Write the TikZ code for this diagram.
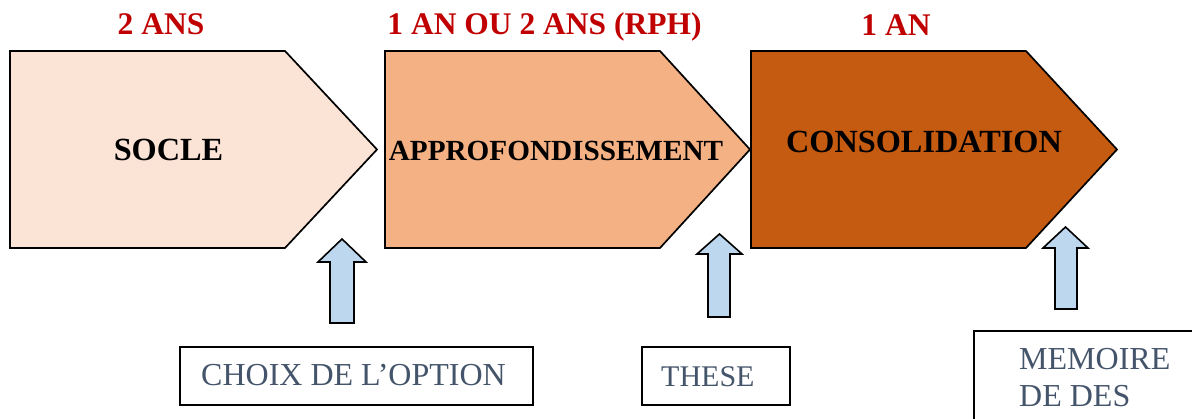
\documentclass[tikz,border=0pt]{standalone}
\usepackage{fontspec}
\setmainfont{Liberation Serif}
\definecolor{socle}{HTML}{FBE4D5}
\definecolor{appro}{HTML}{F4B183}
\definecolor{conso}{HTML}{C55A11}
\definecolor{redlbl}{HTML}{C00000}
\definecolor{slate}{HTML}{44546A}
\definecolor{blockblue}{HTML}{BDD7EE}
\tikzset{
  phase/.style={draw=black, line width=1.7pt, line join=miter},
  uparrow/.style={draw=black, line width=1.6pt, fill=blockblue, line join=miter},
  outbox/.style={draw=black, line width=1.6pt, fill=white, inner sep=0pt},
  durlbl/.style={text=redlbl, font=\fontsize{31.5}{37}\selectfont\bfseries, inner sep=0pt, anchor=base},
  phaselbl/.style={text=black, font=\fontsize{32.3}{37}\selectfont\bfseries, inner sep=0pt, anchor=base},
  boxtxt/.style={text=slate, font=\fontsize{32}{37}\selectfont, inner sep=0pt, anchor=base west}
}
\begin{document}
\begin{tikzpicture}[x=1pt,y=-1pt]
\useasboundingbox (0,0) rectangle (1192,419);
\clip (0,0) rectangle (1192,419);
% phases
\draw[phase, fill=socle] (10,51) -- (285,51) -- (377,149.5) -- (285,248) -- (10,248) -- cycle;
\draw[phase, fill=appro] (385,51) -- (660,51) -- (750,149.5) -- (660,248) -- (385,248) -- cycle;
\draw[phase, fill=conso] (751,51) -- (1026,51) -- (1117,149.5) -- (1026,248) -- (751,248) -- cycle;
\node[phaselbl] (socle) at (168.5,161) {SOCLE};
\node[phaselbl, font=\fontsize{29.2}{35}\selectfont\bfseries] (appro) at (556,161) {APPROFONDISSEMENT};
\node[phaselbl] (conso) at (924,153) {CONSOLIDATION};
% durations
\node[durlbl] (d1) at (161,35) {2 ANS};
\node[durlbl] (d2) at (544.5,35) {1 AN OU 2 ANS (RPH)};
\node[durlbl] (d3) at (896,36) {1 AN};
% block arrows
\draw[uparrow] (330,323) -- (330,262) -- (318,262) -- (342,239) -- (366,262) -- (354,262) -- (354,323) -- cycle;
\draw[uparrow] (708,317) -- (708,254) -- (697,254) -- (719.5,234) -- (742,254) -- (730,254) -- (730,317) -- cycle;
\draw[uparrow] (1055,309) -- (1055,248) -- (1043,248) -- (1065.5,227) -- (1088,248) -- (1077,248) -- (1077,309) -- cycle;
% boxes
\node[outbox, minimum width=353pt, minimum height=58pt, anchor=north west] (b1) at (179,346) {};
\node[boxtxt] (t1) at (201,386) {CHOIX DE L’OPTION};
\node[outbox, minimum width=148pt, minimum height=58pt, anchor=north west] (b2) at (641,346) {};
\node[boxtxt, font=\fontsize{30}{37}\selectfont] (t2) at (661,387) {THESE};
\node[outbox, minimum width=240pt, minimum height=110pt, anchor=north west] (b3) at (973,330) {};
\node[boxtxt] (t3) at (1019,370) {MEMOIRE};
\node[boxtxt] (t4) at (1019,407) {DE DES};
\end{tikzpicture}
\end{document}
